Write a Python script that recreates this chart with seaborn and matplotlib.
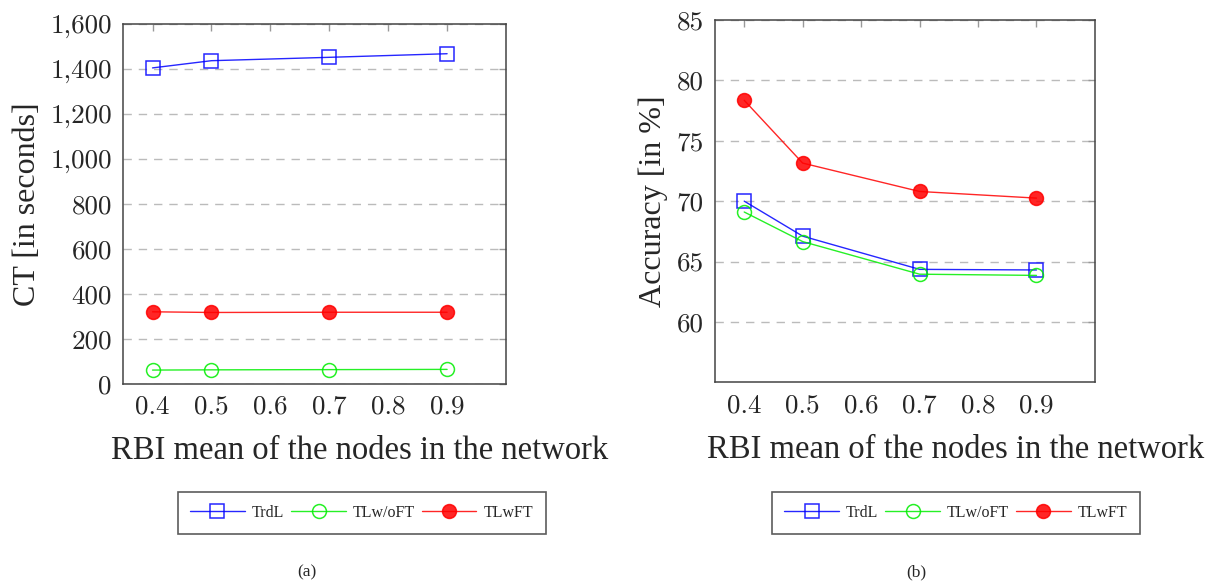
import matplotlib
matplotlib.use("Agg")
import matplotlib.pyplot as plt
import seaborn as sns
import pandas as pd
from matplotlib.lines import Line2D

sns.set_theme(style="white")
plt.rcParams['font.family'] = ['Liberation Serif', 'DejaVu Serif']
plt.rcParams['axes.formatter.use_mathtext'] = True

# Data
rbi = [0.4, 0.5, 0.7, 0.9]
series_names = ["TrdL", "TLw/oFT", "TLwFT"]
ct_trdl = [1405, 1437, 1452, 1468]
ct_tlwoft = [62, 63, 64, 65]
ct_tlwft = [321, 318, 319, 319]
acc_trdl = [70.0, 67.1, 64.35, 64.3]
acc_tlwoft = [69.1, 66.65, 63.95, 63.85]
acc_tlwft = [78.35, 73.15, 70.8, 70.25]
ct_ticks = [0, 200, 400, 600, 800, 1000, 1200, 1400, 1600]
ct_ticklabels = ["0", "200", "400", "600", "800", "1,000", "1,200", "1,400", "1,600"]
acc_ticks = [60, 65, 70, 75, 80, 85]
x_ticks = [0.4, 0.5, 0.6, 0.7, 0.8, 0.9]

colors = {"TrdL": "#0000ff", "TLw/oFT": "#00ee00", "TLwFT": "#ff0000"}
markers = {"TrdL": "s", "TLw/oFT": "o", "TLwFT": "o"}
filled = {"TrdL": False, "TLw/oFT": False, "TLwFT": True}

fig = plt.figure(figsize=(12.1, 5.83), dpi=100)
ax1 = fig.add_axes([0.1017, 0.3413, 0.3165, 0.6175])
ax2 = fig.add_axes([0.5909, 0.3443, 0.314, 0.6214])

tick_font = dict(family='cmr10', size=19.5)

def draw(ax, vals, label_x):
    handles = []
    for name, v in zip(series_names, vals):
        df = pd.DataFrame({"x": rbi, "y": v})
        c = colors[name]
        mfc = c if filled[name] else "none"
        ms = 9.5 if markers[name] == "s" else 10
        sns.lineplot(data=df, x="x", y="y", ax=ax, color=c, linewidth=1.0,
                     marker=markers[name], markersize=ms, markerfacecolor=mfc,
                     markeredgecolor=c, markeredgewidth=1.1, alpha=0.85)
        handles.append(Line2D([], [], color=c, linewidth=1.0, marker=markers[name],
                              markersize=ms, markerfacecolor=mfc, markeredgecolor=c,
                              markeredgewidth=1.1, alpha=0.85))
    ax.set_xlim(0.35, 1.0)
    ax.set_xticks(x_ticks)
    ax.set_xticklabels([f"{t:.1f}" for t in x_ticks], fontdict=tick_font)
    ax.yaxis.grid(True, linestyle=(0, (6, 5)), color="#bbbbbb", linewidth=1.0)
    ax.xaxis.grid(False)
    ax.tick_params(direction="in", top=True, right=True, length=5, color="#999999",
                   width=1, pad=8)
    for s in ax.spines.values():
        s.set_color("#444444")
        s.set_linewidth(1.1)
    ax.set_xlabel("RBI mean of the nodes in the network", fontsize=23.5)
    ax.xaxis.set_label_coords(label_x, -0.143)
    return handles

h1 = draw(ax1, [ct_trdl, ct_tlwoft, ct_tlwft], 0.619)
ax1.set_ylim(0, 1600)
ax1.set_yticks(ct_ticks)
ax1.set_yticklabels(ct_ticklabels, fontdict=tick_font)
ax1.set_ylabel("CT [in seconds]", fontsize=23, labelpad=6)

h2 = draw(ax2, [acc_trdl, acc_tlwoft, acc_tlwft], 0.634)
ax2.set_ylim(55, 85)
ax2.set_yticks(acc_ticks)
ax2.set_yticklabels([str(t) for t in acc_ticks], fontdict=tick_font)
ax2.set_ylabel("Accuracy [in %]", fontsize=23, labelpad=6)

for h, cx in [(h1, 0.299), (h2, 0.790)]:
    leg = fig.legend(h, series_names, loc="center", bbox_to_anchor=(cx, 0.12), ncol=3,
                     fontsize=11.5, frameon=True, fancybox=False, edgecolor="#333333",
                     handlelength=3.4, columnspacing=0.45, handletextpad=0.45,
                     borderpad=0.8, borderaxespad=0)
    leg.get_frame().set_linewidth(1.2)

fig.text(0.2537, 0.005, "(a)", ha="center", va="bottom", fontsize=12.5)
fig.text(0.757, 0.005, "(b)", ha="center", va="bottom", fontsize=12.5)

fig.savefig("out.png", dpi=100, facecolor="white")
